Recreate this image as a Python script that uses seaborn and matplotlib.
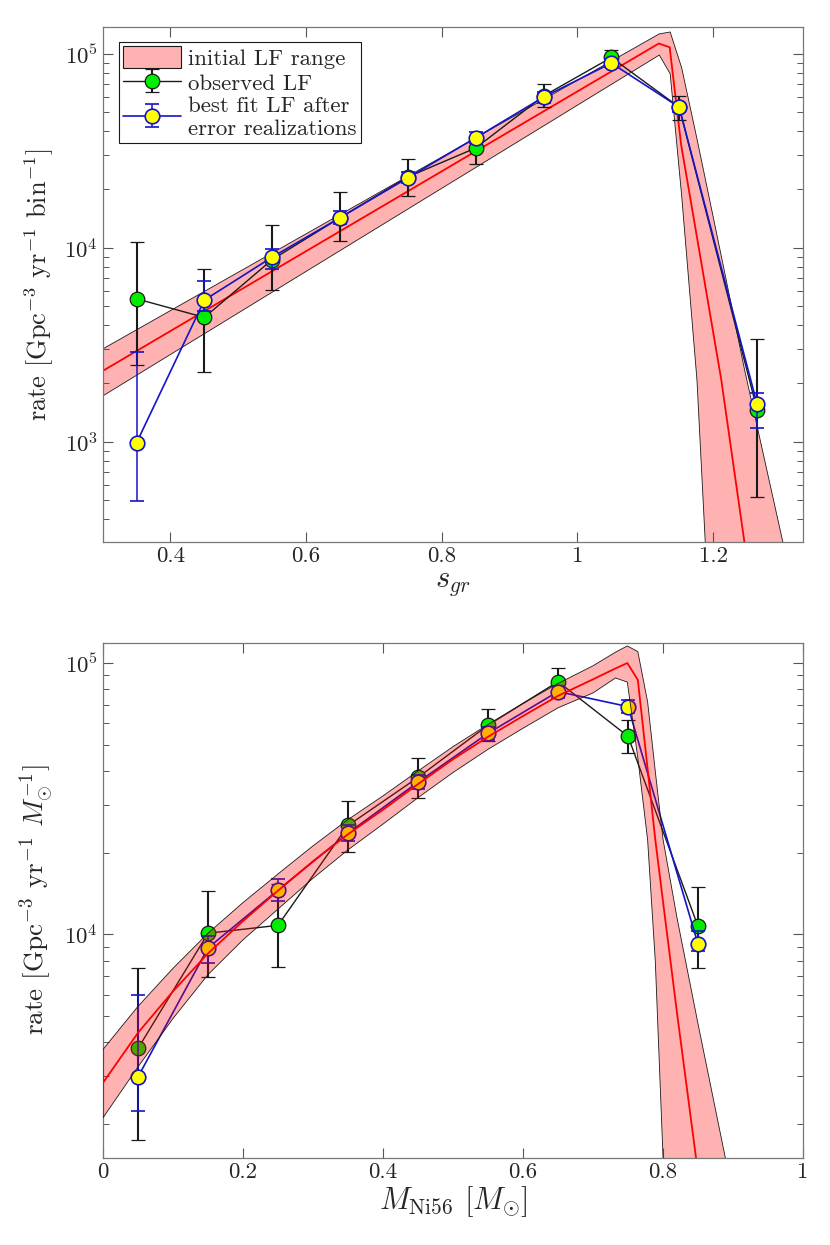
import matplotlib
matplotlib.use("Agg")
import matplotlib.pyplot as plt
from matplotlib.ticker import FuncFormatter, LogLocator, NullFormatter, MultipleLocator
from matplotlib.patches import Patch
import seaborn as sns

# ---- top panel: s_gr luminosity function ----
sgr_bins = [0.35, 0.45, 0.55, 0.65, 0.75, 0.85, 0.95, 1.05, 1.15, 1.265]
sgr_obs = [5460, 4380, 8700, 14300, 23200, 32700, 60600, 95700, 53100, 1460]
sgr_obs_lo = [2500, 2290, 6060, 10800, 18500, 27100, 53500, 88800, 45500, 520]
sgr_obs_hi = [10700, 7820, 13100, 19300, 28700, 37300, 69500, 104500, 60500, 3400]
sgr_fit = [990, 5380, 8960, 14300, 22950, 36900, 59800, 89600, 53100, 1560]
sgr_fit_lo = [498, 4700, 7750, 13300, 21500, 34500, 56000, 85000, 50000, 1180]
sgr_fit_hi = [2920, 6730, 9900, 15500, 24500, 39500, 63500, 94000, 56000, 1780]

# initial LF range (band) and its centre
sgr_grid = [0.3, 1.12, 1.136, 1.153, 1.1755, 1.1877, 1.212, 1.246, 1.249, 1.302, 1.34]
sgr_band_mid = [2320, 113000, 108100, 33800, 11750, 6610, 2100, 308, 257, 12.6, 1.6]
sgr_band_lo = [1740, 99100, 79400, 18600, 2100, 308, 10, 3, 3, 2, 2]
sgr_band_hi = [3040, 127400, 130300, 85100, 36700, 22900, 8910, 2340, 2100, 308, 78]

# ---- bottom panel: M_Ni56 luminosity function ----
ni_bins = [0.05, 0.15, 0.25, 0.35, 0.45, 0.55, 0.65, 0.75, 0.85]
ni_obs = [3800, 10100, 10800, 25200, 37900, 59000, 85400, 53700, 10700]
ni_obs_lo = [1740, 6970, 7570, 20100, 31900, 51500, 78000, 46600, 7520]
ni_obs_hi = [7520, 14400, 15400, 30900, 44800, 67900, 95500, 61800, 14960]
ni_fit = [2985, 8910, 14560, 23600, 36400, 55100, 78500, 69100, 9210]
ni_fit_lo = [2240, 7820, 13300, 22000, 34300, 52000, 74500, 65500, 8700]
ni_fit_hi = [6000, 9900, 15960, 25300, 38600, 58300, 82500, 73000, 10250]

ni_grid = [0, 0.05, 0.1, 0.15, 0.2, 0.25, 0.3, 0.35, 0.4, 0.45, 0.5, 0.55, 0.6,
           0.65, 0.7, 0.732, 0.749, 0.764, 0.778, 0.789, 0.8, 0.82, 0.85, 0.89, 0.92]
ni_band_mid = [2840, 4340, 6170, 8510, 11200, 14500, 18600, 23400, 28800, 35800,
               44200, 53500, 63800, 75700, 87100, 95500, 100000, 86700, 40700,
               22300, 13200, 5130, 1320, 219, 56]
ni_band_hi = [3770, 5430, 7500, 10100, 13100, 16700, 21200, 26500, 32400, 40000,
              49200, 59400, 71000, 84100, 97700, 109600, 115600, 110200, 71900,
              39800, 22400, 11500, 4680, 1460, 590]
ni_band_lo = [2110, 3250, 4900, 7110, 9550, 12400, 16100, 20500, 25500, 31900,
              39500, 48100, 57500, 68400, 77600, 88100, 85100, 44700, 22300,
              7940, 1510, 100, 10, 3, 2]

sns.set_theme(style="ticks")
plt.rcParams['font.family'] = ['cmr10']
plt.rcParams['mathtext.fontset'] = 'cm'
plt.rcParams['axes.formatter.use_mathtext'] = True
plt.rcParams['axes.unicode_minus'] = False

band_face = (1, 0, 0, 0.3)
blue = '#1414c8'

fig = plt.figure(figsize=(8.3, 12.45), dpi=100)
ax1 = fig.add_axes([0.1237, 0.5647, 0.8441, 0.4134])
ax2 = fig.add_axes([0.1241, 0.0699, 0.8434, 0.4140])


def draw_data(ax, x, obs, olo, ohi, fit, flo, fhi, z):
    e_obs = ax.errorbar(x, obs, yerr=[[o - l for o, l in zip(obs, olo)],
                                      [h - o for o, h in zip(obs, ohi)]],
                        color='k', lw=1.0, elinewidth=1.5, capsize=5, capthick=1.5,
                        marker='o', ms=10.5, mfc='#00ee00', mec='k', mew=0.9,
                        zorder=z)
    e_fit = ax.errorbar(x, fit, yerr=[[f - l for f, l in zip(fit, flo)],
                                      [h - f for f, h in zip(fit, fhi)]],
                        color=blue, lw=1.2, elinewidth=1.1, capsize=5, capthick=1.1,
                        marker='o', ms=10.5, mfc='#ffff00', mec=blue, mew=1.2,
                        zorder=z + 1)
    return e_obs, e_fit


def draw_band(ax, grid, lo, mid, hi, z):
    ax.fill_between(grid, lo, hi, facecolor=band_face, edgecolor='k', lw=0.6, zorder=z)
    sns.lineplot(x=grid, y=mid, ax=ax, color='red', lw=1.3, zorder=z + 0.5,
                 legend=False)


# top panel: band under the points
ax1.set_yscale('log')
draw_band(ax1, sgr_grid, sgr_band_lo, sgr_band_mid, sgr_band_hi, 1)
e_obs, e_fit = draw_data(ax1, sgr_bins, sgr_obs, sgr_obs_lo, sgr_obs_hi,
                         sgr_fit, sgr_fit_lo, sgr_fit_hi, 3)
ax1.set_xlim(0.3, 1.333)
ax1.set_ylim(305, 1.37e5)
ax1.set_xlabel(r'$s_{gr}$', fontsize=22, labelpad=3)
ax1.set_ylabel(r'rate [Gpc$^{-3}$ yr$^{-1}$ bin$^{-1}$]', fontsize=19, labelpad=6)

band_patch = Patch(facecolor=band_face, edgecolor='k', lw=0.8)
leg = ax1.legend(handles=[band_patch, e_obs, e_fit],
                 labels=['initial LF range', 'observed LF',
                         'best fit LF after\nerror realizations'],
                 loc='upper left', bbox_to_anchor=(0.023, 0.972), borderaxespad=0,
                 fontsize=16.5, fancybox=False, edgecolor='k', framealpha=1,
                 borderpad=0.2, labelspacing=0.1, handlelength=2.5, handleheight=1.1,
                 handletextpad=0.3)
leg.get_frame().set_linewidth(0.8)

# bottom panel: band drawn over the points
ax2.set_yscale('log')
draw_data(ax2, ni_bins, ni_obs, ni_obs_lo, ni_obs_hi,
          ni_fit, ni_fit_lo, ni_fit_hi, 2)
draw_band(ax2, ni_grid, ni_band_lo, ni_band_mid, ni_band_hi, 5)
ax2.set_xlim(0, 1)
ax2.set_ylim(1500, 1.19e5)
ax2.set_xlabel(r'$M_{\rm Ni56}$ [$M_{\odot}$]', fontsize=22, labelpad=1)
ax2.set_ylabel(r'rate [Gpc$^{-3}$ yr$^{-1}$ $M_{\odot}^{-1}$]', fontsize=19.5, labelpad=6)

fmt = FuncFormatter(lambda v, p: f'{v:g}')
for ax in (ax1, ax2):
    ax.xaxis.set_major_locator(MultipleLocator(0.2))
    ax.xaxis.set_major_formatter(fmt)
    ax.yaxis.set_major_locator(LogLocator(base=10))
    ax.yaxis.set_minor_locator(LogLocator(base=10, subs=range(2, 10)))
    ax.yaxis.set_minor_formatter(NullFormatter())
    ax.tick_params(which='both', direction='in', top=True, right=True,
                   color='#555555', labelcolor='#262626', labelsize=16.5)
    ax.tick_params(which='major', length=7, width=0.8)
    ax.tick_params(which='minor', length=4, width=0.7)
    for s in ax.spines.values():
        s.set_color('#777777')
        s.set_linewidth(0.9)
    ax.set_facecolor('white')

fig.savefig('out.png', dpi=100, facecolor='white')
